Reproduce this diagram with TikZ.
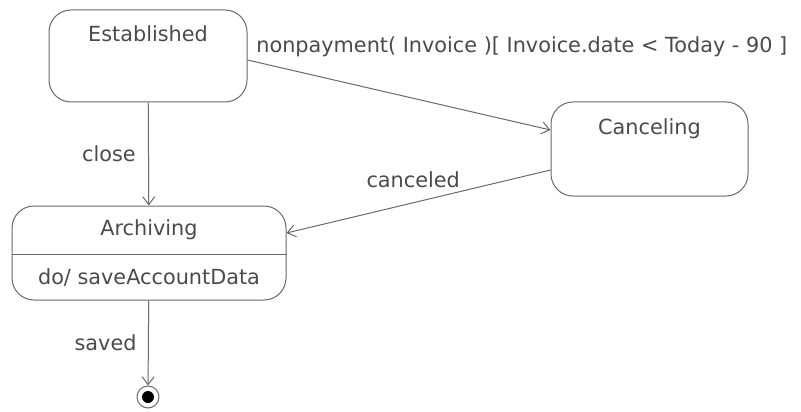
\documentclass[tikz,border=0pt]{standalone}
\usepackage{fontspec}
\setmainfont{DejaVu Sans}
\usetikzlibrary{arrows.meta,positioning,calc}
\definecolor{umlline}{HTML}{6A6A6A}
\definecolor{umltext}{HTML}{4A4A4A}
\tikzset{
  statebox/.style={draw=umlline, rounded corners=22pt, line width=1pt},
  transition/.style={draw=umlline, ->, line width=1pt}
}

\begin{document}
\begin{tikzpicture}[x=1pt, y=-1pt, >={Straight Barb[length=8pt, width=12pt]},
    every node/.style={font=\fontsize{20.8}{24}\selectfont, text=umltext}]
    \useasboundingbox (0,0) rectangle (801,412);

    % states
    \node[statebox, minimum width=198pt, minimum height=92pt] (established) at (148,56) {};
    \node (establishedname) at ($(established.north)+(0,24)$) {Established};
    \node[statebox, minimum width=197pt, minimum height=94pt] (canceling) at (649.5,149) {};
    \node (cancelingname) at ($(canceling.north)+(0,27)$) {Canceling};
    \node[statebox, minimum width=274pt, minimum height=94pt] (archiving) at (149,253) {};
    \node (archivingname) at ($(archiving.north)+(0,24)$) {Archiving};
    \draw[umlline, line width=1pt] ($(archiving.west)+(0,1)$) -- ($(archiving.east)+(0,1)$);
    \node (archivingdo) at ($(archiving.south)+(0,-23)$) {do/ saveAccountData};

    % final state
    \node[circle, draw=umlline, line width=1pt, minimum size=22pt, inner sep=0pt] (final) at (148,397) {};
    \fill[black] (final.center) circle (6pt);

    % transitions
    \draw[transition] (established) -- node[left=9pt] {close} (archiving);
    \draw[transition] ($(established.east)+(0,4)$) -- node[pos=0, anchor=south west, xshift=5pt, yshift=-1pt] {nonpayment( Invoice )[ Invoice.date < Today - 90 ]} ($(canceling.west)+(0,-19)$);
    \draw[transition] ($(canceling.west)+(0,21)$) -- node[above=11pt, pos=0.52] {canceled} ($(archiving.east)+(0,-20)$);
    \draw[transition] (archiving) -- node[left=8pt] {saved} (final);
\end{tikzpicture}
\end{document}
